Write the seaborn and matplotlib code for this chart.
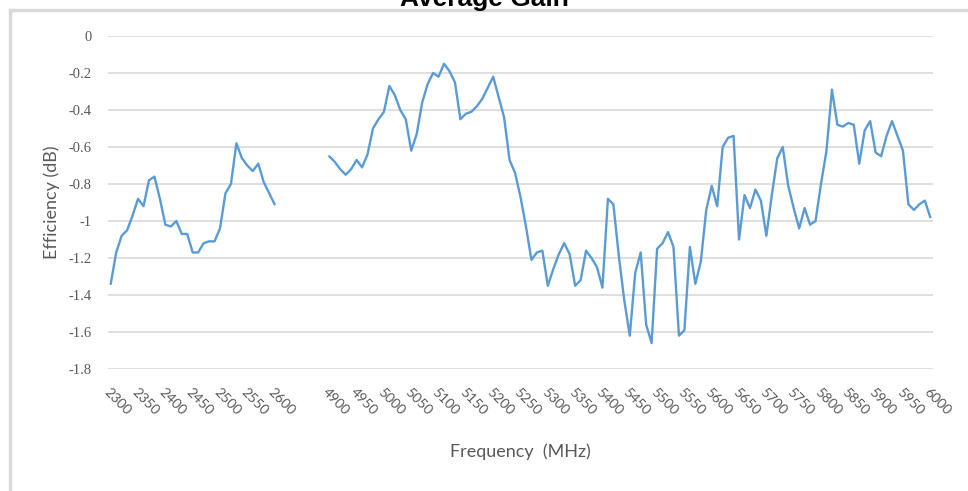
import numpy as np
import pandas as pd
import seaborn as sns
import matplotlib.pyplot as plt
from matplotlib.patches import Rectangle

# 2.4 GHz band, 10 MHz steps
low_freq = list(range(2300, 2601, 10))
low_gain = [-1.34, -1.17, -1.08, -1.05, -0.97, -0.88, -0.92, -0.78, -0.76, -0.88,
            -1.02, -1.03, -1.00, -1.07, -1.07, -1.17, -1.17, -1.12, -1.11, -1.11,
            -1.04, -0.85, -0.80, -0.58, -0.66, -0.70, -0.73, -0.69, -0.79, -0.85,
            -0.91]

# 5 GHz band, 10 MHz steps
high_freq = list(range(4900, 6001, 10))
high_gain = [-0.65, -0.68, -0.72, -0.75, -0.72, -0.67, -0.71, -0.64, -0.50, -0.45,
             -0.41, -0.27, -0.32, -0.40, -0.45, -0.62, -0.53, -0.36, -0.26, -0.20,
             -0.22, -0.15, -0.19, -0.25, -0.45, -0.42, -0.41, -0.38, -0.34, -0.28,
             -0.22, -0.33, -0.44, -0.67, -0.74, -0.87, -1.03, -1.21, -1.17, -1.16,
             -1.35, -1.26, -1.18, -1.12, -1.18, -1.35, -1.32, -1.16, -1.20, -1.25,
             -1.36, -0.88, -0.91, -1.19, -1.43, -1.62, -1.28, -1.17, -1.56, -1.66,
             -1.15, -1.12, -1.06, -1.14, -1.62, -1.59, -1.14, -1.34, -1.22, -0.94,
             -0.81, -0.92, -0.60, -0.55, -0.54, -1.10, -0.86, -0.93, -0.83, -0.89,
             -1.08, -0.86, -0.66, -0.60, -0.81, -0.93, -1.04, -0.93, -1.02, -1.00,
             -0.80, -0.62, -0.29, -0.48, -0.49, -0.47, -0.48, -0.69, -0.51, -0.46,
             -0.63, -0.65, -0.54, -0.46, -0.54, -0.62, -0.91, -0.94, -0.91, -0.89,
             -0.98]

gap_rows = 9  # blank rows between the two bands in the sheet
y_ticks = [0, -0.2, -0.4, -0.6, -0.8, -1, -1.2, -1.4, -1.6, -1.8]
y_tick_labels = ['0', '-0.2', '-0.4', '-0.6', '-0.8', '-1', '-1.2', '-1.4', '-1.6', '-1.8']

categories = [str(f) for f in low_freq] + [''] * gap_rows + [str(f) for f in high_freq]
df = pd.DataFrame({
    'category': categories,
    'gain': low_gain + [np.nan] * gap_rows + high_gain,
    'band': ['low'] * len(low_freq) + ['gap'] * gap_rows + ['high'] * len(high_freq),
})
df['pos'] = range(len(df))
plot_df = df[df['band'] != 'gap']

sns.set_style("white")
plt.rcParams['font.family'] = ['Lato', 'DejaVu Sans']

grey_text = '#595959'
grid_col = '#d9d9d9'
blue = '#5b9bd5'

fig = plt.figure(figsize=(9.68, 4.91), dpi=100)
ax = fig.add_axes([108 / 968, 1 - 369 / 491, 825 / 968, 333 / 491])

sns.lineplot(data=plot_df, x='pos', y='gain', hue='band',
             palette={'low': blue, 'high': blue}, linewidth=1.7,
             legend=False, ax=ax)

ax.set_xlim(-0.5, len(df) - 0.5)
ax.set_ylim(-1.8, 0)
ax.set_yticks(y_ticks)
ax.set_yticklabels(y_tick_labels, family='Liberation Serif', fontsize=10.5, color=grey_text)
ax.yaxis.grid(True, color=grid_col, linewidth=1.2)
ax.set_axisbelow(True)
for s in ax.spines.values():
    s.set_visible(False)
ax.tick_params(axis='y', length=0, pad=12)

xt = list(range(0, len(df), 5))
ax.set_xticks(xt)
ax.set_xticklabels([df['category'][i] for i in xt], rotation=-45, ha='left', va='top',
                   rotation_mode='anchor', fontsize=10, color=grey_text)
ax.tick_params(axis='x', length=0, pad=12)

ax.set_xlabel('Frequency  (MHz)', fontsize=13, color=grey_text, labelpad=19)
ax.set_ylabel('Efficiency (dB)', fontsize=13, color=grey_text, labelpad=6)

fig.text(0.5, 1 - 6 / 491, 'Average Gain', ha='center', va='baseline',
         fontsize=19, fontweight='bold', family='Liberation Sans', color='black')

fig.patches.append(Rectangle((10 / 968, -0.1), 1.2, 1 - 10 / 491 + 0.1, transform=fig.transFigure,
                             fill=False, edgecolor='#d9d9d9', linewidth=2.5, zorder=0))

plt.savefig('out.png', dpi=100)
